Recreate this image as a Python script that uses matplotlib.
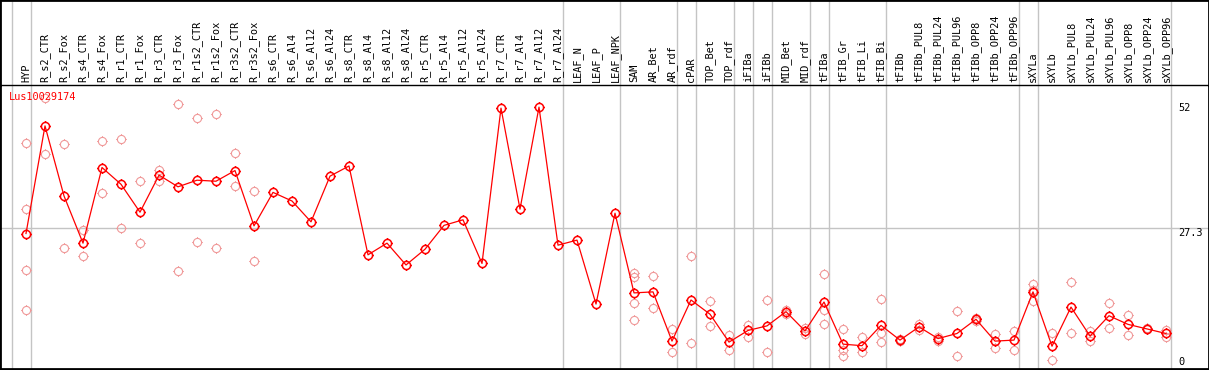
import numpy as np
import matplotlib
matplotlib.use('Agg')
import matplotlib.pyplot as plt
from matplotlib.path import Path
from matplotlib.transforms import blended_transform_factory

# nomes das amostras (colunas)
amostras = ['HYP', 'R_s2_CTR', 'R_s2_Fox', 'R_s4_CTR', 'R_s4_Fox', 'R_r1_CTR', 'R_r1_Fox',
            'R_r3_CTR', 'R_r3_Fox', 'R_r1s2_CTR', 'R_r1s2_Fox', 'R_r3s2_CTR', 'R_r3s2_Fox',
            'R_s6_CTR', 'R_s6_Al4', 'R_s6_Al12', 'R_s6_Al24', 'R_s8_CTR', 'R_s8_Al4',
            'R_s8_Al12', 'R_s8_Al24', 'R_r5_CTR', 'R_r5_Al4', 'R_r5_Al12', 'R_r5_Al24',
            'R_r7_CTR', 'R_r7_Al4', 'R_r7_Al12', 'R_r7_Al24', 'LEAF_N', 'LEAF_P', 'LEAF_NPK',
            'SAM', 'AR_Bet', 'AR_rdf', 'cPAR', 'TOP_Bet', 'TOP_rdf', 'iFIBa', 'iFIBb',
            'MID_Bet', 'MID_rdf', 'tFIBa', 'tFIB_Gr', 'tFIB_Li', 'tFIB_Bi', 'tFIBb',
            'tFIBb_PUL8', 'tFIBb_PUL24', 'tFIBb_PUL96', 'tFIBb_OPP8', 'tFIBb_OPP24',
            'tFIBb_OPP96', 'sXYLa', 'sXYLb', 'sXYLb_PUL8', 'sXYLb_PUL24', 'sXYLb_PUL96',
            'sXYLb_OPP8', 'sXYLb_OPP24', 'sXYLb_OPP96']

# media (linha vermelha)
media = [26.3, 47.5, 33.7, 24.4, 39.3, 36.0, 30.5, 37.8, 35.5, 36.8, 36.6, 38.7, 27.8,
         34.4, 32.7, 28.6, 37.6, 39.6, 22.1, 24.4, 20.1, 23.2, 27.9, 29.0, 20.4,
         51.0, 31.1, 51.2, 24.0, 25.0, 12.4, 30.3, 14.6, 14.8, 5.1, 13.2, 10.4, 4.9,
         7.2, 8.1, 10.9, 7.1, 12.8, 4.5, 4.2, 8.2, 5.3, 7.9, 5.6, 6.6, 9.4, 5.1, 5.3,
         14.8, 4.1, 11.8, 6.1, 10.1, 8.4, 7.5, 6.6]

# replicas (circulos claros)
replicas = [[44.1, 31.1, 19.2, 11.2], [52.9, 41.9], [43.9, 23.4], [27.0, 21.9],
            [44.5, 34.2], [44.9, 27.3], [36.6, 24.4], [38.8, 36.7], [51.9, 19.0],
            [49.0, 24.6], [49.8, 23.4], [42.1, 35.6], [34.6, 20.8],
            [], [], [], [], [], [], [], [], [], [], [], [], [], [], [], [], [], [], [],
            [18.6, 17.7, 12.7, 9.2], [17.9, 11.6], [7.4, 2.9], [21.9, 4.7], [13.0, 8.0],
            [6.3, 3.3], [8.3, 6.0], [13.2, 3.0], [10.4, 11.3], [6.5, 7.6],
            [18.3, 11.2, 8.4], [7.5, 3.3, 2.2], [6.0, 2.9], [13.3, 6.6, 4.9], [5.5, 5.1],
            [8.5, 7.2], [6.0, 5.1], [11.0, 2.2], [9.7, 9.1], [6.5, 3.7], [7.1, 3.3],
            [16.3, 15.2, 13.0], [6.6, 1.3], [16.7, 6.6], [7.0, 5.2], [12.7, 7.6],
            [10.2, 6.4], [7.6, 7.4], [7.2, 6.0]]

# ultima coluna de cada grupo (linhas cinzas)
fim_grupo = [-1, 0, 28, 31, 34, 35, 37, 38, 39, 41, 42, 45, 52, 53, 60]

ticks_y = [0, 27.3, 52]
gene = 'Lus10029174'

x = np.arange(len(amostras))
rep_x = [i for i, r in enumerate(replicas) for _ in r]
rep_y = [v for r in replicas for v in r]

# marcador: circulo (poligono) com tracinhos
ang = np.linspace(0, 2 * np.pi, 41)
verts = list(zip(np.cos(ang), np.sin(ang)))
codes = [Path.MOVETO] + [Path.LINETO] * (len(ang) - 1)
tic = 1.3
for dx, dy in [(1, 0), (-1, 0), (0, 1), (0, -1)]:
    verts += [(dx, dy), (dx * tic, dy * tic)]
    codes += [Path.MOVETO, Path.LINETO]
marcador = Path(verts, codes)

plt.rcParams['font.family'] = 'DejaVu Sans Mono'
cinza = '#c4c4c4'
xlim = (-26 / 19, (1209 - 26) / 19)

fig = plt.figure(figsize=(12.09, 3.70), dpi=100)
ax = fig.add_axes([0, 1 / 370, 1, 284 / 370])
ax_h = fig.add_axes([0, 285 / 370, 1, 85 / 370])

# cabecalho com os nomes
ax_h.set_xlim(*xlim)
ax_h.set_ylim(0, 1)
for g in fim_grupo:
    ax_h.axvline(g + 0.24, color=cinza, lw=1)
for i, nome in enumerate(amostras):
    ax_h.text(i, 0.03, nome, rotation=90, ha='center', va='bottom', fontsize=7.4)
ax_h.set_xticks([])
ax_h.set_yticks([])
for s in ax_h.spines.values():
    s.set_color('black')
    s.set_linewidth(2)
ax_h.spines['bottom'].set_linewidth(1)

# grafico
ax.set_xlim(*xlim)
ax.set_ylim((367 - 369) / 5.076, (367 - 85) / 5.076)
for g in fim_grupo:
    ax.axvline(g + 0.24, color=cinza, lw=1, zorder=1)
ax.axhline(ticks_y[1], color=cinza, lw=1, zorder=1)

ax.plot(rep_x, rep_y, ls='none', marker=marcador, ms=7.6, mfc='none',
        mec='#f09a9a', mew=0.8, zorder=2)
ax.plot(x, media, color='red', lw=0.9, marker=marcador, ms=7.6, mfc='none',
        mec='red', mew=1.1, zorder=3)

tr = blended_transform_factory(ax.transAxes, ax.transData)
for v in ticks_y:
    ax.text(1178 / 1209, v, f'{v:g}', transform=tr, ha='left',
            va='bottom' if v == 0 else 'top', fontsize=7.4, zorder=4)

ax.text(9 / 1209, 0.958, gene, transform=ax.transAxes, color='red',
        ha='left', va='center', fontsize=7.4, zorder=4)

ax.set_xticks([])
ax.set_yticks([])
for s in ax.spines.values():
    s.set_color('black')
    s.set_linewidth(2)
ax.spines['top'].set_visible(False)

fig.savefig('out.png', dpi=100)
